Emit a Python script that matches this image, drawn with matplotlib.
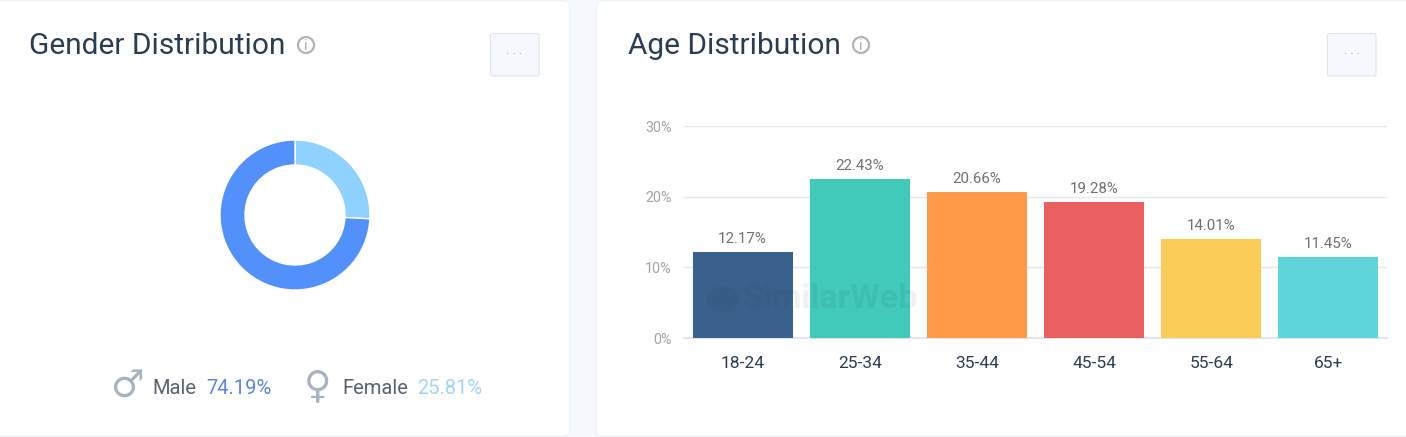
import matplotlib
matplotlib.use("Agg")
import matplotlib.pyplot as plt
from matplotlib.patches import FancyBboxPatch, Circle, Ellipse

W, H = 1406, 437

gender_labels = ["Female", "Male"]
gender_values = [25.81, 74.19]
gender_colors = ["#8fd1ff", "#5291fb"]

age_labels = ["18-24", "25-34", "35-44", "45-54", "55-64", "65+"]
age_values = [12.17, 22.43, 20.66, 19.28, 14.01, 11.45]
age_colors = ["#39618c", "#41c9b9", "#ff9a47", "#ea5f60", "#fbcd58", "#5dd5db"]
y_ticks = [0, 10, 20, 30]

plt.rcParams["font.family"] = ["Roboto", "DejaVu Sans"]

fig = plt.figure(figsize=(W / 100, H / 100), dpi=100, facecolor="#f5f8fd")


def px_axes(left, top, right, bottom, **kw):
    # axes placed with screenshot pixel coordinates
    return fig.add_axes([left / W, 1 - bottom / H, (right - left) / W, (bottom - top) / H], **kw)


# background layer in pixels, y pointing down
bg = px_axes(0, 0, W, H, zorder=0)
bg.set_xlim(0, W)
bg.set_ylim(H, 0)
bg.axis("off")


def panel(x0, x1):
    bg.add_patch(FancyBboxPatch((x0 + 6, 7), x1 - x0 - 12, 423, boxstyle="round,pad=6,rounding_size=6",
                                fc="white", ec="#f0f2f8", lw=0.8))


def menu_button(x0):
    bg.add_patch(FancyBboxPatch((x0 + 2.5, 35.5), 44.5, 38.5, boxstyle="round,pad=2,rounding_size=2",
                                fc="#f5f8fd", ec="#e2e5ec", lw=0.8))
    bg.text(x0 + 24.5, 54, "\u00b7 \u00b7 \u00b7", color="#9aa3b0", fontsize=9, ha="center", va="center")


def info_icon(cx):
    bg.add_patch(Circle((cx, 45), 8, fc="none", ec="#b4b4b4", lw=1.6))
    bg.text(cx, 45.5, "i", color="#a8a8a8", fontsize=10, ha="center", va="center")


panel(-8, 569.5)
panel(596.5, 1414)

bg.text(29, 46, "Gender Distribution", color="#2b3d52", fontsize=21.5, va="center")
bg.text(628, 46, "Age Distribution", color="#2b3d52", fontsize=21.5, va="center")
info_icon(306)
info_icon(861)
menu_button(490)
menu_button(1327)

# legend row under the donut
bg.text(127, 387, "\u2642", family="DejaVu Sans", color="#a9b2c0", fontsize=27, ha="center", va="center")
bg.text(152.5, 388, "Male", color="#5a6372", fontsize=14.5, va="center")
bg.text(206.5, 388, "74.19%", color="#5b86e5", fontsize=14.5, va="center")
bg.text(318, 387, "\u2640", family="DejaVu Sans", color="#a9b2c0", fontsize=27, ha="center", va="center")
bg.text(342.5, 388, "Female", color="#5a6372", fontsize=14.5, va="center")
bg.text(417.5, 388, "25.81%", color="#a6d4f7", fontsize=14.5, va="center")

# donut
donut = px_axes(215, 135, 375, 295, zorder=2)
donut.pie(gender_values, colors=gender_colors, startangle=90, counterclock=False, radius=75 / 80,
          wedgeprops=dict(width=25 / 80, edgecolor="white", linewidth=1))
donut.set_xlim(-1, 1)
donut.set_ylim(-1, 1)
donut.set_aspect("equal")

# bars
ax = px_axes(684, 126, 1387, 338, zorder=2)
ax.patch.set_alpha(0)
x_pos = list(range(len(age_labels)))
ax.bar(x_pos, age_values, width=0.853, color=age_colors, zorder=3)
for x, v in zip(x_pos, age_values):
    ax.annotate(f"{v:.2f}%", (x, v), xytext=(0, 6), textcoords="offset pixels", ha="center", va="bottom",
                color="#707070", fontsize=10.8, zorder=4)
ax.set_xlim(-0.5, 5.5)
ax.set_ylim(0, 30)
ax.set_yticks(y_ticks)
ax.set_yticklabels([f"{t}%" for t in y_ticks], color="#a3a3a3", fontsize=10.3)
ax.set_xticks(x_pos)
ax.set_xticklabels(age_labels, color="#2b3d52", fontsize=12.5)
ax.tick_params(axis="both", length=0)
ax.tick_params(axis="x", pad=13)
ax.tick_params(axis="y", pad=9)
ax.grid(axis="y", color="#e6e8ec", lw=1, zorder=0)
ax.set_axisbelow(True)
for name in ["top", "right", "left"]:
    ax.spines[name].set_visible(False)
ax.spines["bottom"].set_color("#e3e6ee")
ax.spines["bottom"].set_linewidth(1.5)

# faint watermark over the bars
top = px_axes(0, 0, W, H, zorder=5)
top.set_xlim(0, W)
top.set_ylim(H, 0)
top.axis("off")
top.patch.set_alpha(0)
top.add_patch(Ellipse((723, 299), 32, 26, fc="#1d3a52", alpha=0.09, lw=0))
top.text(743, 299, "SimilarWeb", color="#1d3a52", alpha=0.07, fontsize=24.5, fontweight="bold", va="center")

fig.savefig("out.png", dpi=100, facecolor=fig.get_facecolor())
